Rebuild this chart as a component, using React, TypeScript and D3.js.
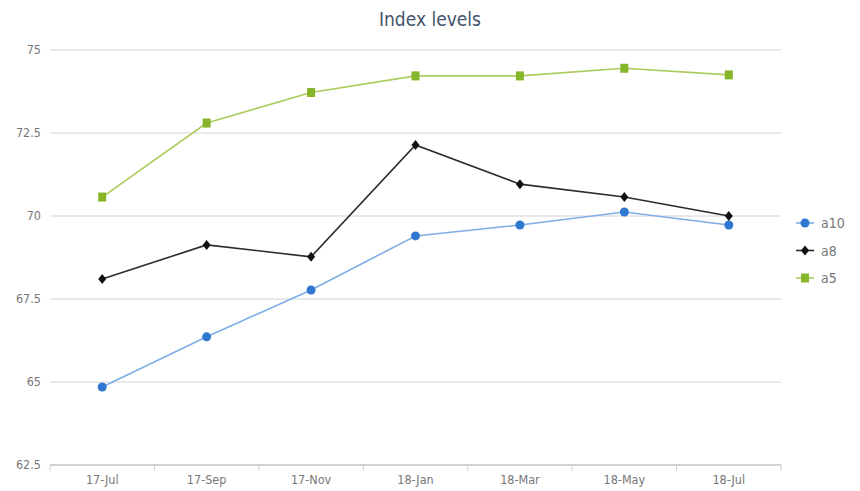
import React from "react";
import * as d3 from "d3";

const categories = ["17-Jul", "17-Sep", "17-Nov", "18-Jan", "18-Mar", "18-May", "18-Jul"];
const a10 = [64.85, 66.36, 67.77, 69.4, 69.73, 70.12, 69.73];
const a8 = [68.1, 69.13, 68.77, 72.14, 70.96, 70.57, 70.0];
const a5 = [70.57, 72.8, 73.72, 74.22, 74.22, 74.45, 74.25];
const yTicks = [62.5, 65, 67.5, 70, 72.5, 75];
const yTickLabels = ["62.5", "65", "67.5", "70", "72.5", "75"];

const series = [
  { name: "a10", values: a10, line: "#7eaee6", marker: "#2f78d0", shape: "circle" },
  { name: "a8", values: a8, line: "#2b2b2b", marker: "#111111", shape: "diamond" },
  { name: "a5", values: a5, line: "#a9cc5c", marker: "#86b52a", shape: "square" },
];

const W = 860;
const H = 491;
const left = 50;
const right = 781;
const top = 50;
const bottom = 465;
const FONT = "'Liberation Sans Narrow', 'DejaVu Sans Condensed', 'Open Sans', sans-serif";

function Marker({ shape, x, y, color }: { shape: string; x: number; y: number; color: string }) {
  if (shape === "circle") return <circle cx={x} cy={y} r={4.5} fill={color} />;
  if (shape === "square") return <rect x={x - 4} y={y - 4.5} width={8} height={9} fill={color} />;
  return <path d={`M${x},${y - 5}L${x + 4},${y}L${x},${y + 5}L${x - 4},${y}Z`} fill={color} />;
}

export default function App() {
  const x = d3.scaleBand<string>().domain(categories).range([left, right]);
  const y = d3.scaleLinear().domain([62.5, 75]).range([bottom, top]);
  const cx = (c: string) => (x(c) as number) + x.bandwidth() / 2;
  const line = d3
    .line<number>()
    .x((_, i) => cx(categories[i]))
    .y((v) => y(v));
  const edges = categories.map((c) => x(c) as number).concat([right]);

  return (
    <svg width={W} height={H} style={{ position: "absolute", left: 0, top: 0, background: "#fff" }}>
      <text x={430} y={26} textAnchor="middle" fontFamily={FONT} fontSize={19} fill="#43536e">
        Index levels
      </text>
      {yTicks.map((t, i) => (
        <g key={t}>
          <line x1={left} x2={right} y1={y(t)} y2={y(t)} stroke={i === 0 ? "#c4c4c4" : "#d4d4d4"} strokeWidth={i === 0 ? 1.5 : 1} />
          <text x={41} y={y(t) + 4} textAnchor="end" fontFamily={FONT} fontSize={12.5} fill="#777">
            {yTickLabels[i]}
          </text>
        </g>
      ))}
      {edges.map((e, i) => (
        <line key={i} x1={e} x2={e} y1={bottom} y2={bottom + 6} stroke="#d0d0d0" />
      ))}
      {categories.map((c) => (
        <text key={c} x={cx(c)} y={484} textAnchor="middle" fontFamily={FONT} fontSize={12.5} fill="#777">
          {c}
        </text>
      ))}
      {series.map((s) => (
        <g key={s.name}>
          <path d={line(s.values) || ""} fill="none" stroke={s.line} strokeWidth={1.6} />
          {s.values.map((v, i) => (
            <Marker key={i} shape={s.shape} x={cx(categories[i])} y={y(v)} color={s.marker} />
          ))}
        </g>
      ))}
      {series.map((s, i) => {
        const ly = 223 + i * 27.5;
        return (
          <g key={s.name}>
            <line x1={796} x2={814} y1={ly} y2={ly} stroke={s.line} strokeWidth={1.6} />
            <Marker shape={s.shape} x={805} y={ly} color={s.marker} />
            <text x={821} y={ly + 5} fontFamily={FONT} fontSize={14} fill="#777">
              {s.name}
            </text>
          </g>
        );
      })}
    </svg>
  );
}
